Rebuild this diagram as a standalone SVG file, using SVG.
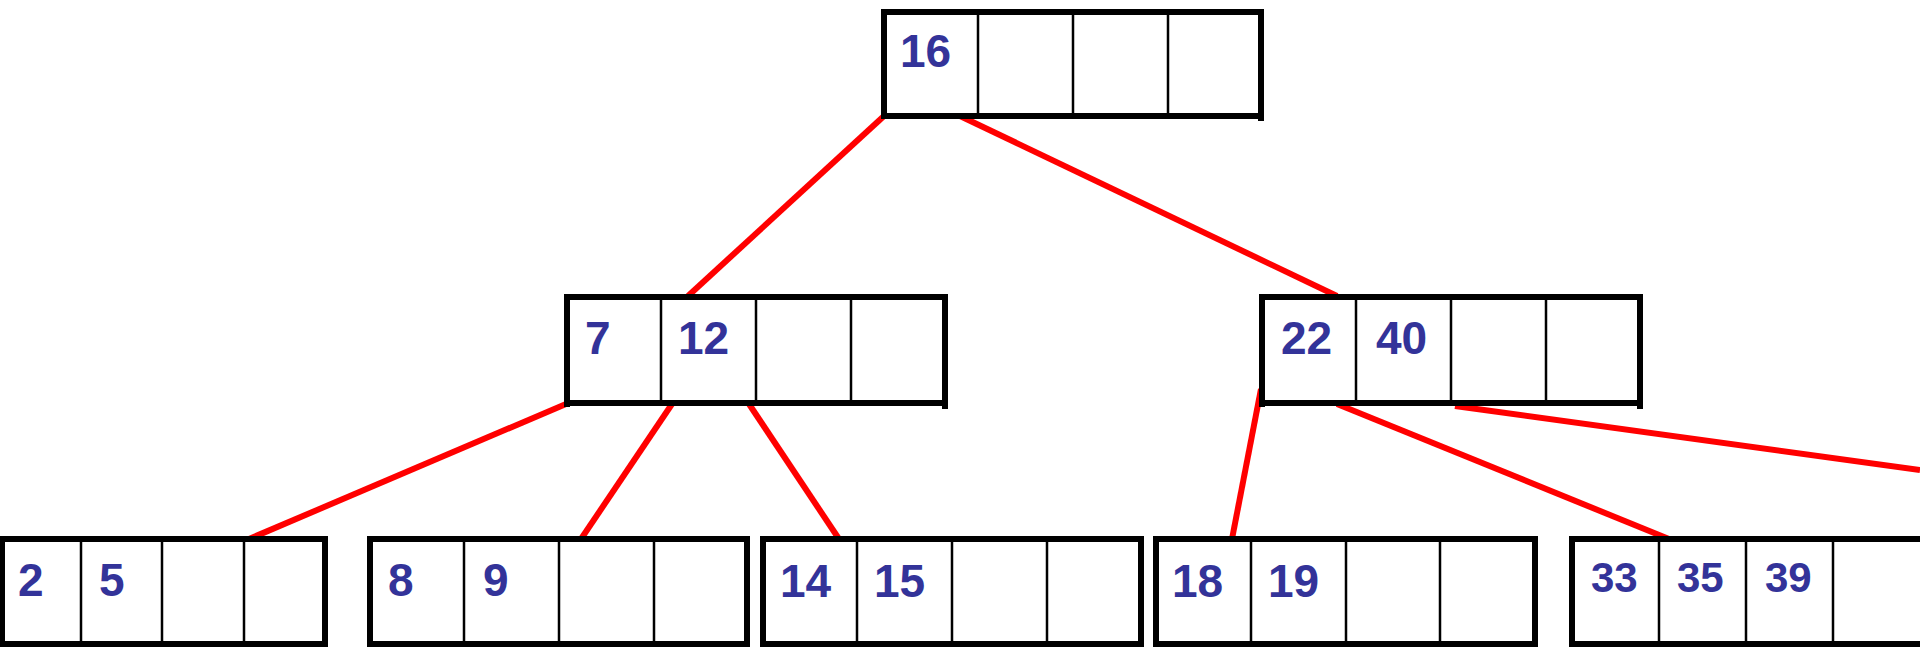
<svg xmlns="http://www.w3.org/2000/svg" width="1920" height="647" viewBox="0 0 1920 647">
<style>
.bg{fill:#ffffff}
.box{fill:#ffffff;stroke:none}
.edge{stroke:#000;stroke-width:6;fill:none}
.div{stroke:#000;stroke-width:2.5;fill:none}
.key{font-family:"Liberation Sans",Arial,sans-serif;font-weight:bold;font-size:46px;fill:#333399}
.key.sm{font-size:42px}
.link{stroke:#ff0000;stroke-width:6;fill:none}
</style>
<rect class="bg" x="0" y="0" width="1920" height="647"/>
<g id="connectors">
<line class="link" x1="884" y1="116" x2="688" y2="296"/>
<line class="link" x1="960" y1="116" x2="1337" y2="296"/>
<line class="link" x1="566" y1="404" x2="249" y2="539"/>
<line class="link" x1="672" y1="404" x2="581" y2="539"/>
<line class="link" x1="749" y1="404" x2="839" y2="539"/>
<line class="link" x1="1261" y1="389" x2="1232" y2="539"/>
<line class="link" x1="1337" y1="404" x2="1669" y2="539"/>
<line class="link" x1="1455" y1="406" x2="1920" y2="470"/>
</g>
<g id="root">
<rect class="box" x="884" y="12" width="377" height="104"/>
<path class="edge" d="M884 12H1261M884 116H1261M884 9V119M1261 9V121"/>
<path class="div" d="M978 12V116M1073 12V116M1168 12V116"/>
<text class="key" x="900" y="67">16</text>
</g>
<g id="n7_12">
<rect class="box" x="567" y="297" width="378" height="106"/>
<path class="edge" d="M567 297H945M567 403H945M567 294V407M945 294V409"/>
<path class="div" d="M661 297V403M756 297V403M851 297V403"/>
<text class="key" x="585" y="354">7</text>
<text class="key" x="678" y="354">12</text>
</g>
<g id="n22_40">
<rect class="box" x="1262" y="297" width="378" height="106"/>
<path class="edge" d="M1262 297H1640M1262 403H1640M1262 294V407M1640 294V409"/>
<path class="div" d="M1356 297V403M1451 297V403M1546 297V403"/>
<text class="key" x="1281" y="354">22</text>
<text class="key" x="1376" y="354">40</text>
</g>
<g id="leaf2_5">
<rect class="box" x="2" y="539" width="323" height="105"/>
<path class="edge" d="M2 539H325M2 644H325M2 536V647M325 536V647"/>
<path class="div" d="M81 539V644M162 539V644M244 539V644"/>
<text class="key" x="18" y="596">2</text>
<text class="key" x="99" y="596">5</text>
</g>
<g id="leaf8_9">
<rect class="box" x="370" y="539" width="377" height="105"/>
<path class="edge" d="M370 539H747M370 644H747M370 536V647M747 536V647"/>
<path class="div" d="M464 539V644M559 539V644M654 539V644"/>
<text class="key" x="388" y="596">8</text>
<text class="key" x="483" y="596">9</text>
</g>
<g id="leaf14_15">
<rect class="box" x="763" y="539" width="378" height="105"/>
<path class="edge" d="M763 539H1141M763 644H1141M763 536V647M1141 536V647"/>
<path class="div" d="M857 539V644M952 539V644M1047 539V644"/>
<text class="key" x="780" y="597">14</text>
<text class="key" x="874" y="597">15</text>
</g>
<g id="leaf18_19">
<rect class="box" x="1156" y="539" width="379" height="105"/>
<path class="edge" d="M1156 539H1535M1156 644H1535M1156 536V647M1535 536V647"/>
<path class="div" d="M1251 539V644M1346 539V644M1440 539V644"/>
<text class="key" x="1172" y="597">18</text>
<text class="key" x="1268" y="597">19</text>
</g>
<g id="leaf33_35_39">
<rect class="box" x="1572" y="539" width="348" height="105"/>
<path class="edge" d="M1572 539H1920M1572 644H1920M1572 536V647"/>
<path class="div" d="M1659 539V644M1746 539V644M1833 539V644"/>
<text class="key sm" x="1591" y="592">33</text>
<text class="key sm" x="1677" y="592">35</text>
<text class="key sm" x="1765" y="592">39</text>
</g>
</svg>
